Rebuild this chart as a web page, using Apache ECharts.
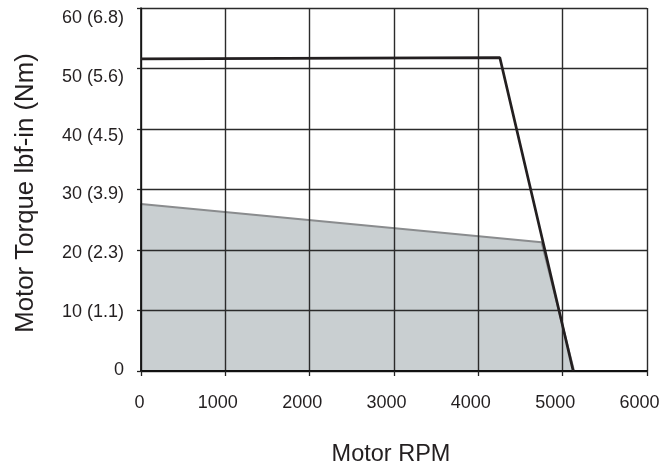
<!DOCTYPE html>
<html>
<head>
<meta charset="utf-8">
<script src="https://cdn.jsdelivr.net/npm/echarts@6/dist/echarts.min.js"></script>
<style>
  html, body { margin: 0; padding: 0; background: #fff; }
  #chart { width: 663px; height: 467px; }
</style>
</head>
<body>
<div id="chart"></div>
<script>
const rpmTicks = [0, 1000, 2000, 3000, 4000, 5000, 6000];
const torqueTicks = [0, 10, 20, 30, 40, 50, 60];
const torqueLabels = ["0", "10 (1.1)", "20 (2.3)", "30 (3.9)", "40 (4.5)", "50 (5.6)", "60 (6.8)"];

// peak torque envelope (black)
const peakRpm = [0, 4255, 5125];
const peakTorque = [51.6, 51.8, 0];

// continuous duty region (grey)
const contRpm = [0, 0, 4750, 5135, 0];
const contTorque = [0, 27.6, 21.3, 0, 0];

const font = "'Liberation Sans', Arial, sans-serif";
const ink = "#231f20";

let myChart = echarts.init(document.getElementById("chart"));

let option = {
  animation: false,
  grid: { left: 141, right: 16, top: 8, bottom: 96, outerBoundsMode: "none", containLabel: false },
  xAxis: {
    type: "value",
    min: rpmTicks[0],
    max: rpmTicks[rpmTicks.length - 1],
    interval: 1000,
    z: 3,
    name: "Motor RPM",
    nameLocation: "middle",
    nameGap: 72,
    nameTextStyle: { fontFamily: font, fontSize: 23.5, color: ink, padding: [0, 6, 0, 0] },
    axisLine: { lineStyle: { color: "#111", width: 2 } },
    axisTick: { show: true, length: 5, lineStyle: { color: "#222", width: 1.3 } },
    axisLabel: {
      margin: 23,
      fontFamily: font,
      fontSize: 18,
      color: ink,
      formatter: v => (v === 0 ? "{z|0}" : "{n|" + v + "}"),
      rich: {
        z: { fontFamily: font, fontSize: 18, color: ink, padding: [0, 3, 0, 0] },
        n: { fontFamily: font, fontSize: 18, color: ink, padding: [0, 15, 0, 0] }
      }
    },
    splitLine: { show: true, lineStyle: { color: "#2b2b2b", width: 1.4 } }
  },
  yAxis: [
    {
      type: "value",
      position: "left",
      min: torqueTicks[0],
      max: torqueTicks[torqueTicks.length - 1],
      interval: 10,
      z: 3,
      name: "Motor Torque lbf-in (Nm)",
      nameLocation: "middle",
      nameGap: 102,
      nameTextStyle: { fontFamily: font, fontSize: 25.8, color: ink, padding: [0, 7, 0, 0] },
      axisLine: { show: true, lineStyle: { color: "#111", width: 1.6 } },
      axisTick: { show: true, length: 4, lineStyle: { color: "#222", width: 1.3 } },
      axisLabel: { show: false },
      splitLine: { show: true, lineStyle: { color: "#2b2b2b", width: 1.4 } }
    },
    {
      // label-only axis: the printed tick labels drift slightly from the grid
      type: "value",
      position: "left",
      min: -0.09,
      max: 61.75,
      axisLine: { show: false },
      axisTick: { show: false },
      splitLine: { show: false },
      axisLabel: {
        margin: 17,
        fontFamily: font,
        fontSize: 18,
        color: ink,
        customValues: torqueTicks,
        formatter: v => torqueLabels[torqueTicks.indexOf(v)]
      }
    }
  ],
  series: [
    {
      name: "continuous",
      type: "line",
      z: 2,
      symbol: "none",
      silent: true,
      lineStyle: { color: "#8a8c8e", width: 2 },
      areaStyle: { color: "#c9cfd1", opacity: 1 },
      data: contRpm.map((r, i) => [r, contTorque[i]])
    },
    {
      name: "peak",
      type: "line",
      z: 5,
      symbol: "none",
      silent: true,
      lineStyle: { color: ink, width: 2.7 },
      data: peakRpm.map((r, i) => [r, peakTorque[i]])
    }
  ]
};

myChart.setOption(option);
window.addEventListener("resize", () => myChart.resize(), false);
</script>
</body>
</html>
